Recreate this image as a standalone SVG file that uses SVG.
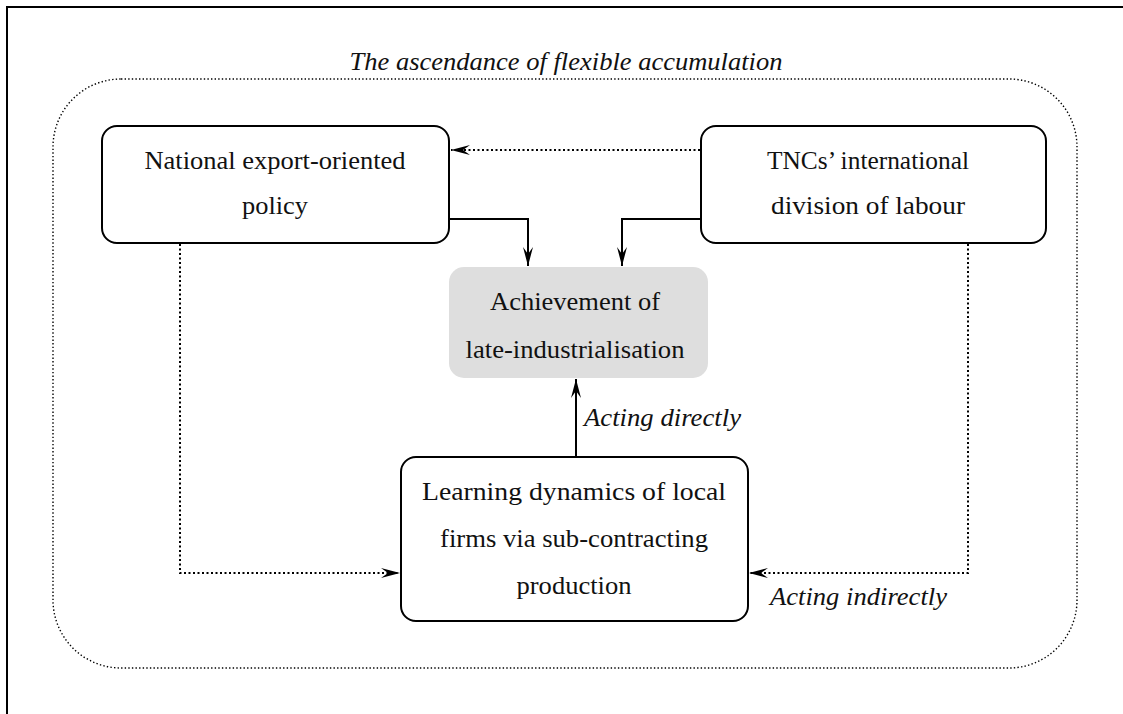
<svg xmlns="http://www.w3.org/2000/svg" width="1123" height="714" viewBox="0 0 1123 714">
  <style>
    text { font-family: "Liberation Serif", "Times New Roman", serif; font-size: 25px; fill: #111; }
    .it { font-style: italic; }
    .box { fill: #fff; stroke: #000; stroke-width: 2; }
    .goal { fill: #dedede; stroke: none; }
    .solid { fill: none; stroke: #000; stroke-width: 2; }
    .dots { fill: none; stroke: #000; stroke-width: 2; stroke-dasharray: 2 2.5; }
    .outer { fill: none; stroke: #000; stroke-width: 1.4; stroke-dasharray: 1.4 2.2; }
  </style>
  <defs>
    <marker id="head" markerUnits="userSpaceOnUse" markerWidth="24" markerHeight="14" viewBox="-20 -7 22 14" refX="0" refY="0" orient="auto">
      <path d="M0,0 L-19,-5 L-12,0 L-19,5 Z" fill="#000"/>
    </marker>
  </defs>

  <rect width="1123" height="714" fill="#fff"/>
  <!-- page frame -->
  <path d="M7,714 V7 H1123" fill="none" stroke="#000" stroke-width="2"/>

  <!-- enclosing context -->
  <g id="context">
    <rect class="outer" x="53" y="79" width="1024" height="589" rx="68" ry="68"/>
    <text class="it" x="566" y="70" text-anchor="middle" textLength="433" lengthAdjust="spacingAndGlyphs">The ascendance of flexible accumulation</text>
  </g>

  <g id="connectors">
    <path class="dots" d="M700,150 H451" marker-end="url(#head)"/>
    <path class="solid" d="M449,219 H528 V266" marker-end="url(#head)"/>
    <path class="solid" d="M700,219 H622 V266" marker-end="url(#head)"/>
    <path class="solid" d="M576,457 V379" marker-end="url(#head)"/>
    <path class="dots" d="M180,244 V573 H400" marker-end="url(#head)"/>
    <path class="dots" d="M968,244 V573 H749" marker-end="url(#head)"/>
    <text class="it" x="584" y="426" textLength="157" lengthAdjust="spacingAndGlyphs">Acting directly</text>
    <text class="it" x="770" y="605" textLength="177" lengthAdjust="spacingAndGlyphs">Acting indirectly</text>
  </g>

  <g id="policy">
    <rect class="box" x="102" y="126" width="347" height="117" rx="15" ry="15"/>
    <text x="275" y="169" text-anchor="middle" textLength="261" lengthAdjust="spacingAndGlyphs">National export-oriented</text>
    <text x="275" y="214" text-anchor="middle" textLength="66" lengthAdjust="spacingAndGlyphs">policy</text>
  </g>

  <g id="tncs">
    <rect class="box" x="701" y="126" width="345" height="117" rx="15" ry="15"/>
    <text x="868" y="169" text-anchor="middle" textLength="202" lengthAdjust="spacingAndGlyphs">TNCs’ international</text>
    <text x="868" y="214" text-anchor="middle" textLength="194" lengthAdjust="spacingAndGlyphs">division of labour</text>
  </g>

  <g id="achievement">
    <rect class="goal" x="449" y="267" width="259" height="111" rx="15" ry="15"/>
    <text x="575" y="310" text-anchor="middle" textLength="170" lengthAdjust="spacingAndGlyphs">Achievement of</text>
    <text x="575" y="358" text-anchor="middle" textLength="219" lengthAdjust="spacingAndGlyphs">late-industrialisation</text>
  </g>

  <g id="learning">
    <rect class="box" x="401" y="457" width="347" height="164" rx="15" ry="15"/>
    <text x="574" y="500" text-anchor="middle" textLength="304" lengthAdjust="spacingAndGlyphs">Learning dynamics of local</text>
    <text x="574" y="547" text-anchor="middle" textLength="268" lengthAdjust="spacingAndGlyphs">firms via sub-contracting</text>
    <text x="574" y="594" text-anchor="middle" textLength="115" lengthAdjust="spacingAndGlyphs">production</text>
  </g>
</svg>
